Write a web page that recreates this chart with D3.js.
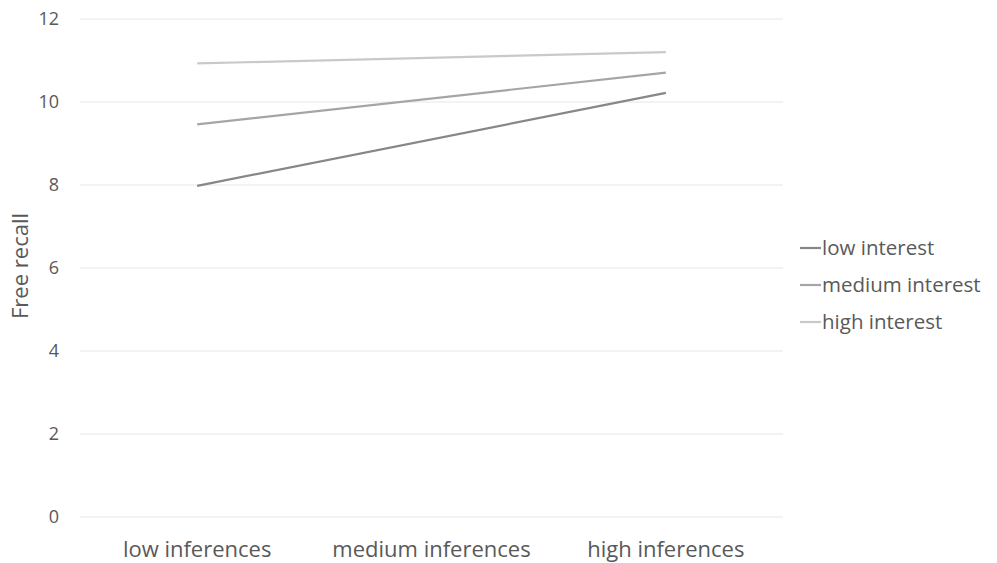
<!DOCTYPE html>
<html><head><meta charset="utf-8">
<script src="https://cdn.jsdelivr.net/npm/d3@7"></script>
<style>body{margin:0;background:#fff;} text{font-family:"Open Sans",sans-serif;fill:#595959;}</style>
</head><body><svg id="c" width="997" height="563"></svg>
<script>
const categories = ["low inferences", "medium inferences", "high inferences"];
const seriesNames = ["low interest", "medium interest", "high interest"];
const lowInterest = [7.98, null, 10.22];
const mediumInterest = [9.46, null, 10.71];
const highInterest = [10.93, null, 11.2];
const yTicks = [0, 2, 4, 6, 8, 10, 12];
const colors = ["#878787", "#a5a5a5", "#c9c9c9"];
const seriesValues = [lowInterest, mediumInterest, highInterest];

const svg = d3.select("#c");
const x = d3.scaleBand().domain(categories).range([80, 783]);
const y = d3.scaleLinear().domain([0, 12]).range([517, 19]);

// gridlines
svg.append("g").selectAll("line").data(yTicks).join("line")
  .attr("x1", 80).attr("x2", 783)
  .attr("y1", d => y(d)).attr("y2", d => y(d))
  .attr("stroke", "#e6e6e6").attr("stroke-width", 1);

// y tick labels
svg.append("g").selectAll("text").data(yTicks).join("text")
  .attr("x", 59).attr("y", d => y(d)).attr("dy", "0.35em")
  .attr("text-anchor", "end").attr("font-size", 18).text(d => d);

// x labels
svg.append("g").selectAll("text").data(categories).join("text")
  .attr("x", d => x(d) + x.bandwidth() / 2).attr("y", 557)
  .attr("text-anchor", "middle").attr("font-size", 22).text(d => d);

// y title
svg.append("text").attr("transform", "translate(28,266) rotate(-90)")
  .attr("text-anchor", "middle").attr("font-size", 22).text("Free recall");

// lines (connect first and last defined points)
const line = d3.line().defined(d => d.v != null)
  .x(d => x(d.c) + x.bandwidth() / 2).y(d => y(d.v));
seriesValues.forEach((vals, i) => {
  const pts = categories.map((c, j) => ({c, v: vals[j]})).filter(d => d.v != null);
  svg.append("path").datum(pts).attr("d", line)
    .attr("fill", "none").attr("stroke", colors[i]).attr("stroke-width", 2.2);
});

// legend
const lg = svg.append("g");
seriesNames.forEach((n, i) => {
  const cy = 248 + i * 37;
  lg.append("line").attr("x1", 800).attr("x2", 821).attr("y1", cy).attr("y2", cy)
    .attr("stroke", colors[i]).attr("stroke-width", 2.2);
  lg.append("text").attr("x", 822).attr("y", cy).attr("dy", "0.35em")
    .attr("font-size", 20.5).text(n);
});
</script></body></html>
